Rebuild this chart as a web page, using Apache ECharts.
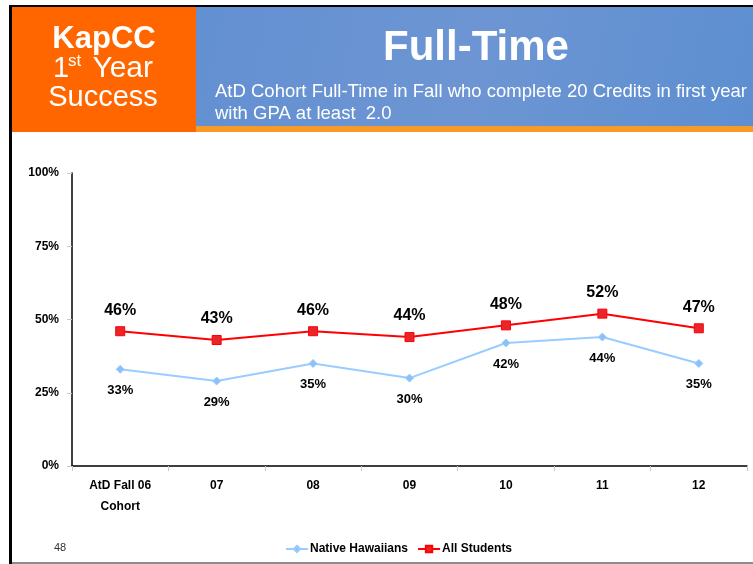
<!DOCTYPE html>
<html>
<head>
<meta charset="utf-8">
<title>Full-Time</title>
<script src="https://cdn.jsdelivr.net/npm/echarts@6/dist/echarts.min.js"></script>
<style>
  html, body { margin: 0; padding: 0; background: #fff; }
  #chart { width: 753px; height: 564px; }
</style>
</head>
<body>
<div id="chart"></div>
<script>
// Cohort years (first is the AtD Fall 2006 cohort)
const categories = ['AtD Fall 06\nCohort', '07', '08', '09', '10', '11', '12'];
// Percent of full-time students completing 20 credits with GPA >= 2.0
const nativeHawaiians = [33, 29, 35, 30, 42, 44, 35];
const allStudents = [46, 43, 46, 44, 48, 52, 47];
const yTicks = [0, 25, 50, 75, 100];

const FONT = '"Liberation Sans", Arial, sans-serif';

const chart = echarts.init(document.getElementById('chart'), null, { renderer: 'canvas' });

chart.setOption({
  backgroundColor: '#ffffff',
  animation: false,
  textStyle: { fontFamily: FONT },
  graphic: [
    // slide frame
    { type: 'rect', shape: { x: 9, y: 5, width: 744, height: 2 }, style: { fill: '#000' } },
    { type: 'rect', shape: { x: 9, y: 5, width: 3, height: 559 }, style: { fill: '#000' } },
    { type: 'rect', shape: { x: 12, y: 562, width: 741, height: 2 }, style: { fill: '#8c8c8c' } },
    // orange title block
    { type: 'rect', shape: { x: 12, y: 7, width: 184, height: 125 }, style: { fill: '#ff6600' } },
    // blue banner
    {
      type: 'rect', shape: { x: 196, y: 7, width: 557, height: 119 },
      style: {
        fill: new echarts.graphic.LinearGradient(0, 0, 1, 1, [
          { offset: 0, color: '#6390d2' },
          { offset: 0.5, color: '#6d95d3' },
          { offset: 1, color: '#5d8fd0' }
        ])
      }
    },
    { type: 'rect', shape: { x: 196, y: 126, width: 557, height: 6 }, style: { fill: '#f79a26' } },
    // title block text
    { type: 'text', x: 104, y: 39, style: { text: 'KapCC', fill: '#fff', font: 'bold 31px ' + FONT, align: 'center', verticalAlign: 'middle' } },
    { type: 'text', x: 53, y: 69, style: { text: '1', fill: '#fff', font: '29px ' + FONT, align: 'left', verticalAlign: 'middle' } },
    { type: 'text', x: 68, y: 61, style: { text: 'st', fill: '#fff', font: '17px ' + FONT, align: 'left', verticalAlign: 'middle' } },
    { type: 'text', x: 153, y: 69, style: { text: 'Year', fill: '#fff', font: '30px ' + FONT, align: 'right', verticalAlign: 'middle' } },
    { type: 'text', x: 103, y: 98, style: { text: 'Success', fill: '#fff', font: '29px ' + FONT, align: 'center', verticalAlign: 'middle' } },
    // banner text
    { type: 'text', x: 476, y: 48, style: { text: 'Full-Time', fill: '#fff', font: 'bold 42px ' + FONT, align: 'center', verticalAlign: 'middle' } },
    { type: 'text', x: 215, y: 92, style: { text: 'AtD Cohort Full-Time in Fall who complete 20 Credits in first year', fill: '#fff', font: '18.5px ' + FONT, align: 'left', verticalAlign: 'middle' } },
    { type: 'text', x: 215, y: 114, style: { text: 'with GPA at least  2.0', fill: '#fff', font: '18.5px ' + FONT, align: 'left', verticalAlign: 'middle' } },
    // page number
    { type: 'text', x: 60, y: 548, style: { text: '48', fill: '#333', font: '11px ' + FONT, align: 'center', verticalAlign: 'middle' } }
  ],
  grid: { left: 72, right: 6, top: 173, bottom: 98, containLabel: false },
  legend: {
    bottom: 4,
    left: 280,
    itemWidth: 22,
    itemHeight: 8,
    itemGap: 9,
    textStyle: { fontFamily: FONT, fontSize: 12, fontWeight: 'bold', color: '#000', padding: [0, 0, 0, -3] },
    data: ['Native Hawaiians', 'All Students']
  },
  xAxis: {
    type: 'category',
    data: categories,
    boundaryGap: true,
    axisLine: { lineStyle: { color: '#000', width: 1.5 } },
    axisTick: { show: true, length: 5, lineStyle: { color: '#c8c8c8' } },
    axisLabel: { fontFamily: FONT, fontSize: 12, fontWeight: 'bold', color: '#000', margin: 9, lineHeight: 21 }
  },
  yAxis: {
    type: 'value',
    min: yTicks[0],
    max: yTicks[yTicks.length - 1],
    interval: 25,
    axisLine: { show: true, lineStyle: { color: '#000', width: 1.5 } },
    axisTick: { show: true, length: 5, lineStyle: { color: '#c8c8c8' } },
    splitLine: { show: false },
    axisLabel: { fontFamily: FONT, fontSize: 12, fontWeight: 'bold', color: '#000', margin: 13, formatter: v => v + '%' }
  },
  series: [
    {
      name: 'Native Hawaiians',
      type: 'line',
      data: nativeHawaiians,
      symbol: 'diamond',
      symbolSize: 8,
      lineStyle: { color: '#99ccff', width: 2 },
      itemStyle: { color: '#8ec0f8', borderColor: '#99ccff', borderWidth: 1 },
      label: {
        show: true, position: 'bottom', distance: 10,
        formatter: p => p.value + '%',
        fontFamily: FONT, fontSize: 13, fontWeight: 'bold', color: '#000'
      }
    },
    {
      name: 'All Students',
      type: 'line',
      data: allStudents,
      symbol: 'rect',
      symbolSize: 9,
      lineStyle: { color: '#ff0000', width: 2 },
      itemStyle: { color: '#e8242c', borderColor: '#ff0000', borderWidth: 1 },
      label: {
        show: true, position: 'top', distance: 8,
        formatter: p => p.value + '%',
        fontFamily: FONT, fontSize: 16, fontWeight: 'bold', color: '#000'
      }
    }
  ]
});
</script>
</body>
</html>
